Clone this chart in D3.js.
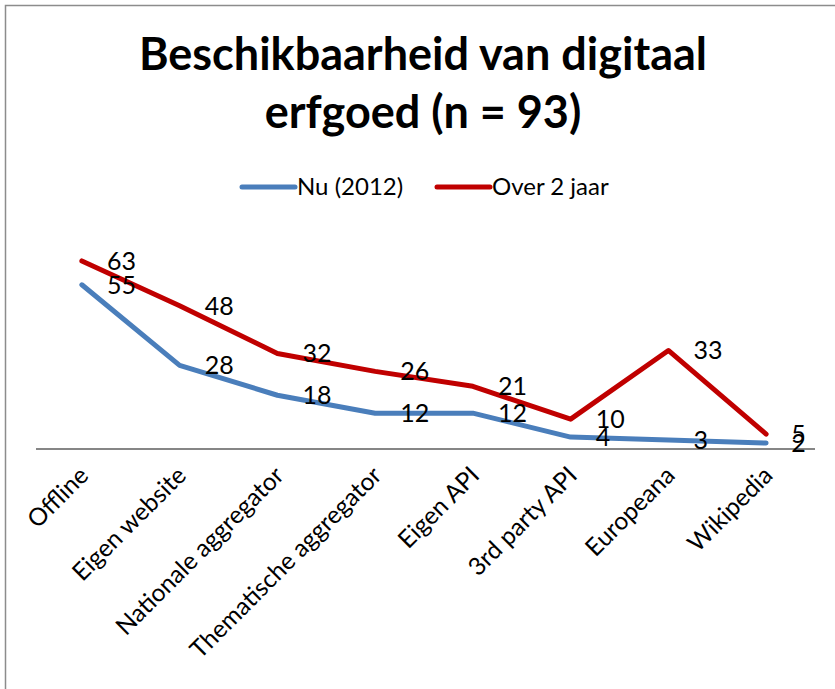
<!DOCTYPE html>
<html>
<head>
<meta charset="utf-8">
<script src="https://cdn.jsdelivr.net/npm/d3@7"></script>
<style>
  body { margin: 0; background: #fff; }
  svg { display: block; font-family: Lato, "Open Sans", sans-serif; }
</style>
</head>
<body>
<svg id="chart" width="835" height="689"></svg>
<script>
// categories and series
var categories = ["Offline", "Eigen website", "Nationale aggregator", "Thematische aggregator",
                  "Eigen API", "3rd party API", "Europeana", "Wikipedia"];
var nu2012 = [55, 28, 18, 12, 12, 4, 3, 2];
var over2jaar = [63, 48, 32, 26, 21, 10, 33, 5];
var seriesNames = ["Nu (2012)", "Over 2 jaar"];
var seriesColors = ["#4a7ebb", "#c00000"];
var titleLines = ["Beschikbaarheid van digitaal", "erfgoed (n = 93)"];

var w = 835, h = 689;
var svg = d3.select("#chart");

var margin = {left: 33, right: 20, baseline: 449, top: 240};

var x = d3.scalePoint()
    .domain(categories)
    .range([margin.left, w - margin.right])
    .padding(0.5);
var y = d3.scaleLinear()
    .domain([0, 70])
    .range([margin.baseline, margin.top]);

// outer frame (right and bottom edges fall outside the picture)
svg.append("rect")
  .attr("x", 5.5).attr("y", 5.5)
  .attr("width", w + 10).attr("height", h + 10)
  .attr("fill", "none")
  .attr("stroke", "#8c8c8c")
  .attr("stroke-width", 1.5);

// title
svg.append("g").selectAll("text")
    .data(titleLines)
  .enter().append("text")
    .attr("x", 423)
    .attr("y", function(d, i) { return 70 + i * 58; })
    .attr("text-anchor", "middle")
    .style("font-size", "45px")
    .style("font-weight", "bold")
    .text(function(d) { return d; });

// legend
var legendX = [242, 437];
var legend = svg.append("g").selectAll("g")
    .data(seriesNames)
  .enter().append("g")
    .attr("transform", function(d, i) { return "translate(" + legendX[i] + ",187)"; });
legend.append("line")
    .attr("x1", 0).attr("x2", 53)
    .attr("stroke", function(d, i) { return seriesColors[i]; })
    .attr("stroke-width", 5)
    .attr("stroke-linecap", "round");
legend.append("text")
    .attr("x", 55).attr("y", 8)
    .style("font-size", "24px")
    .text(function(d) { return d; });

// x axis: plain baseline with rotated labels
var xAxis = svg.append("g")
    .attr("transform", "translate(0," + margin.baseline + ")")
    .call(d3.axisBottom(x).tickSize(0).tickFormat(""));
xAxis.select(".domain")
    .attr("d", "M36,0H815")
    .attr("stroke", "#868686")
    .attr("stroke-width", 2);

svg.append("g").selectAll("text")
    .data(categories)
  .enter().append("text")
    .attr("text-anchor", "end")
    .attr("transform", function(d) { return "translate(" + (x(d) + 8) + ",477) rotate(-45)"; })
    .style("font-size", "24.5px")
    .text(function(d) { return d; });

// lines
var series = [nu2012, over2jaar];
var line = d3.line()
    .x(function(d, i) { return x(categories[i]); })
    .y(function(d) { return y(d); });

svg.append("g").selectAll("path")
    .data(series)
  .enter().append("path")
    .attr("d", line)
    .attr("fill", "none")
    .attr("stroke", function(d, i) { return seriesColors[i]; })
    .attr("stroke-width", 5)
    .attr("stroke-linejoin", "round")
    .attr("stroke-linecap", "round");

// data labels, to the right of each point
series.forEach(function(s) {
  svg.append("g").selectAll("text")
      .data(s)
    .enter().append("text")
      .attr("x", function(d, i) { return x(categories[i]) + 25; })
      .attr("y", function(d) { return y(d); })
      .attr("dy", "0.36em")
      .style("font-size", "25px")
      .text(function(d) { return d; });
});
</script>
</body>
</html>
